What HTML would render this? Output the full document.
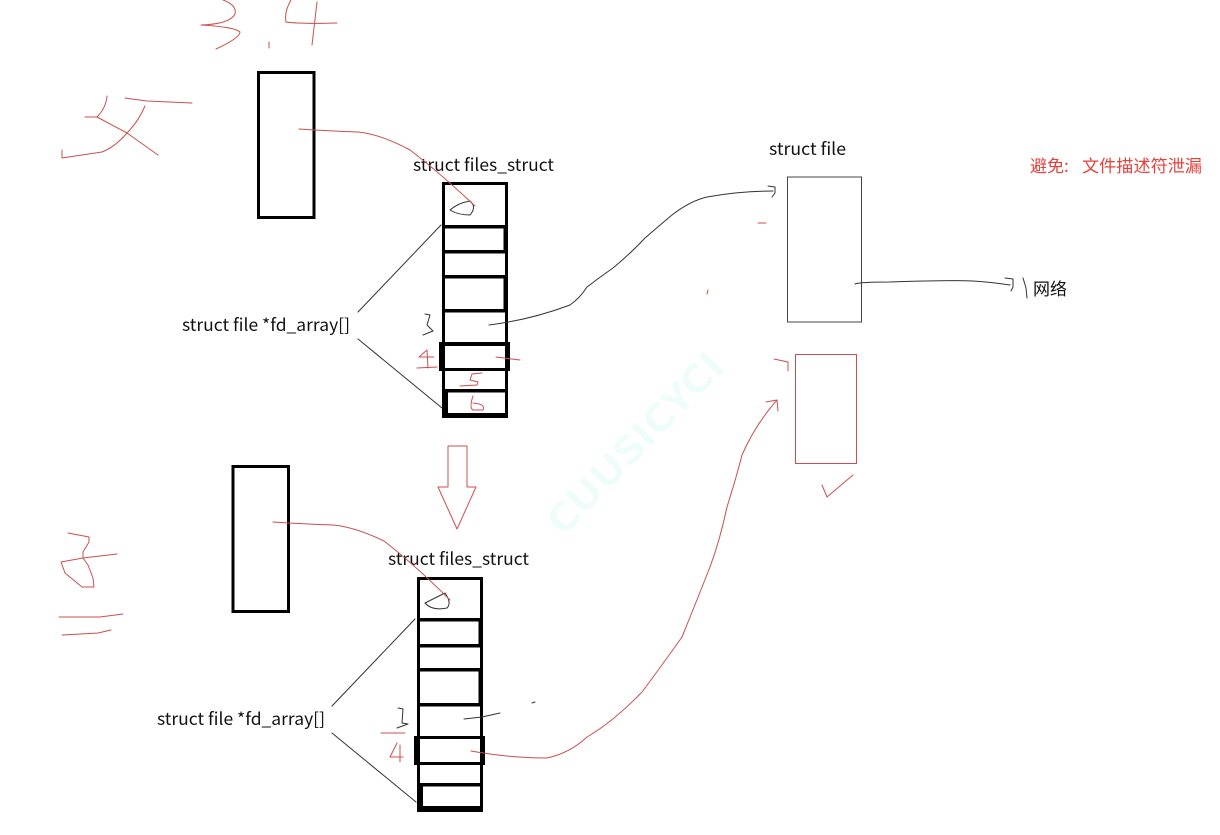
<!DOCTYPE html>
<html><head><meta charset="utf-8"><title>struct files_struct</title>
<style>
html,body{margin:0;padding:0;background:#fff;width:1220px;height:835px;overflow:hidden}
svg{display:block;filter:blur(0.35px)}
text{font-family:"Noto Sans CJK SC","Liberation Sans",sans-serif;font-size:17px;fill:#111}
.r{fill:none;stroke:#c8504f;stroke-width:1;stroke-linejoin:round;stroke-linecap:round}
.k{fill:none;stroke:#333;stroke-width:1;stroke-linejoin:round;stroke-linecap:round}
</style></head><body>
<svg width="1220" height="835" viewBox="0 0 1220 835" xmlns="http://www.w3.org/2000/svg">
<rect width="1220" height="835" fill="#fff"/>
<text x="0" y="0" transform="translate(563,537) rotate(-46)" style="font-size:37px;font-weight:700;fill:#eefdfa" textLength="235" lengthAdjust="spacingAndGlyphs">CUUSICYCI</text>

<!-- process boxes -->
<rect x="258.5" y="72.5" width="55.5" height="145" fill="none" stroke="#000" stroke-width="3"/>
<rect x="233" y="466.5" width="55.5" height="145" fill="none" stroke="#000" stroke-width="3"/>

<!-- stack 1 -->
<g fill="#000">
<path fill-rule="evenodd" d="M442 182H508V418H442ZM445 185V413H505V185Z"/>
<rect x="442" y="225" width="66" height="3.5"/>
<rect x="442" y="250" width="66" height="3.5"/>
<rect x="442" y="275" width="66" height="3.5"/>
<rect x="442" y="309" width="66" height="3.5"/>
<rect x="503.5" y="228" width="2" height="22"/>
<rect x="503.5" y="278" width="2" height="31"/>
<path fill-rule="evenodd" d="M439 342H510V371H439ZM445 346V368H505V346Z"/>
<rect x="442" y="389" width="66" height="3.5"/>
<rect x="445" y="392" width="3" height="22"/>
</g>
<!-- stack 2 -->
<g fill="#000">
<path fill-rule="evenodd" d="M417 577H483V812H417ZM420 580V806H480V580Z"/>
<rect x="417" y="618" width="66" height="3.5"/>
<rect x="417" y="644" width="66" height="3.5"/>
<rect x="417" y="668" width="66" height="3.5"/>
<rect x="417" y="703" width="66" height="3.5"/>
<rect x="478.5" y="621" width="2" height="23"/>
<rect x="478.5" y="671" width="2" height="32"/>
<path fill-rule="evenodd" d="M414 736H485V765H414ZM420 739V762H480V739Z"/>
<rect x="417" y="783" width="66" height="3.5"/>
<rect x="420" y="786" width="3" height="20"/>
</g>

<!-- thin rects -->
<rect x="787.5" y="177" width="74" height="145" fill="none" stroke="#444" stroke-width="1"/>
<rect x="795.5" y="354.5" width="61" height="109" fill="none" stroke="#c8504f" stroke-width="1"/>

<!-- bracket lines -->
<polyline class="k" points="441,225 358,312"/>
<polyline class="k" points="358,339 442,408"/>
<polyline class="k" points="415,619 332,706"/>
<polyline class="k" points="332,733 416,802"/>

<!-- labels -->
<text x="413" y="171" textLength="141" lengthAdjust="spacingAndGlyphs">struct files_struct</text>
<text x="388" y="565" textLength="141" lengthAdjust="spacingAndGlyphs">struct files_struct</text>
<text x="769" y="155" textLength="77" lengthAdjust="spacingAndGlyphs">struct file</text>
<text x="182" y="331" textLength="168" lengthAdjust="spacingAndGlyphs">struct file *fd_array[]</text>
<text x="157" y="725" textLength="168" lengthAdjust="spacingAndGlyphs">struct file *fd_array[]</text>
<text x="1033" y="295" textLength="34" lengthAdjust="spacingAndGlyphs">网络</text>
<text x="1030" y="172" style="fill:#e5413a">避免:</text>
<text x="1082" y="172" style="fill:#e5413a" textLength="120" lengthAdjust="spacingAndGlyphs">文件描述符泄漏</text>

<!-- black curves -->
<path class="k" d="M489,325 Q530,320 570,305 Q580,298 587,287 Q600,277 613,268 Q630,254 645,238 Q660,225 672,215 Q690,201 707,197 Q740,191 773,191"/>
<polyline class="k" points="768,186 775,187 775,193 772,197"/>
<path class="k" d="M855,284 Q860,282 890,282 Q950,280 973,281 Q990,282 1010,285"/>
<polyline class="k" points="1005,278 1013,279 1013,287 1011,291"/>
<polyline class="k" points="1023,278 1026,288 1027,298"/>
<polyline class="k" points="464,719 482,717 500,713"/>
<polyline class="k" points="532,703 535,702"/>

<!-- zeros -->
<path class="k" d="M450,210 Q458,203 470,201 Q477,207 470,215 Q458,215 450,210Z"/>
<path class="k" d="M425,603 L445,593 Q452,603 447,608 Q432,611 425,603Z"/>
<!-- 3s black -->
<polyline class="k" points="425,314 430,315 427,325 433,331 423,335"/>
<polyline class="k" points="398,708 403,709 402,723 408,724 397,728"/>

<!-- red strokes -->
<path class="r" d="M299,129 Q330,131 358,132 Q380,134 410,150 Q440,173 475,206"/>
<path class="r" d="M273,522 Q305,524 333,525 Q355,527 384,541 Q415,565 450,600"/>
<path class="r" d="M471,751 Q510,758 547,758 Q570,753 587,737 Q613,722 642,692 Q660,668 682,637 Q695,605 710,567 Q720,540 727,507 Q737,475 742,455 Q755,425 777,400"/>
<polyline class="r" points="766,402 777,400 778,411"/>
<polyline class="r" points="774,359 788,362 788,371"/>
<polyline class="r" points="822,485 827,497 853,475"/>
<polyline class="r" points="758,223 766,223"/>
<polyline class="r" points="708,290 707,294"/>
<!-- hollow arrow -->
<polygon class="r" points="448,446 467,446 467,487 476,487 457,529 438,487 448,487"/>
<!-- 3.4 -->
<path class="r" d="M223,0 Q237,5 235,14 Q230,24 201,25 Q235,27 240,32 Q240,38 216,49"/>
<polyline class="r" points="269,42 269,48"/>
<path class="r" d="M291,0 Q284,12 286,22 Q300,24 337,23"/>
<polyline class="r" points="317,2 312,45"/>
<!-- 女 -->
<polyline class="r" points="125,98 147,101 192,103"/>
<path class="r" d="M107,96 Q106,108 97,117 L85,117"/>
<polyline class="r" points="97,117 127,133 158,155"/>
<path class="r" d="M145,106 Q138,122 127,133 Q115,147 102,152 L62,158 L62,150"/>
<!-- 子 -->
<polyline class="r" points="68,533 89,537 89,542 83,552 83,558 61,562 65,573 82,587 94,587 93,578 88,565 83,558 117,554"/>
<polyline class="r" points="59,617 100,617 123,614"/>
<polyline class="r" points="62,635 98,633 111,630"/>
<!-- stack 1 red numbers -->
<polyline class="r" points="427,350 419,357 434,357"/>
<polyline class="r" points="427,350 428,368"/>
<polyline class="r" points="417,368 437,367"/>
<polyline class="r" points="496,357 520,360"/>
<polyline class="r" points="482,373 472,374 470,380 478,382 477,385 460,386"/>
<path class="r" d="M473,396 Q469,408 473,410 L483,410 Q486,404 473,403"/>
<!-- stack 2 red numbers -->
<polyline class="r" points="381,733 405,733"/>
<polyline class="r" points="397,743 390,757 403,757"/>
<polyline class="r" points="400,745 400,762"/>
</svg>
</body></html>
